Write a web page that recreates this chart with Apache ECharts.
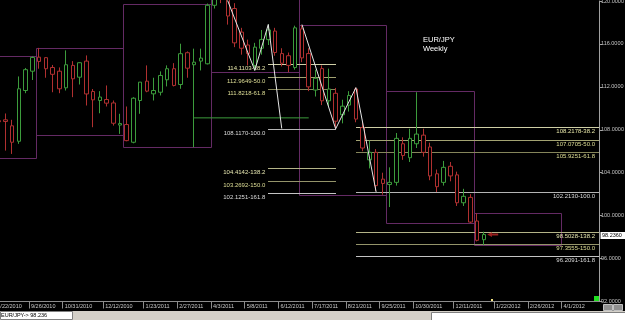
<!DOCTYPE html>
<html><head><meta charset="utf-8">
<script src="https://cdn.jsdelivr.net/npm/echarts@6/dist/echarts.min.js"></script>
<style>html,body{margin:0;padding:0;background:#000;overflow:hidden}#c{width:625px;height:320px}</style>
</head><body><div id="c"></div>
<script>
// ---- data ----
const symbolName = 'EUR/JPY';
const periodName = 'Weekly';
const firstWeek = '2010-08-22';
const opens  = [108.85,108.93,108.37,106.93,111.66,113.46,114.77,114.72,113.80,113.46,111.91,114.00,112.90,114.40,111.57,110.73,110.82,110.50,108.44,108.49,106.84,110.73,112.53,111.35,111.50,112.66,113.69,112.22,115.18,114.06,114.40,114.15,
  119.60,121.90,120.20,119.30,117.10,115.90,114.00,115.60,116.40,117.20,115.10,114.90,113.80,117.40,115.10,111.70,113.70,110.70,111.40,109.40,110.30,111.80,108.20,105.20,105.90,103.40,102.90,103.10,
  106.70,105.40,106.70,107.50,106.40,103.90,103.10,104.60,103.80,101.20,101.70,99.50,97.76];
const closes = [108.75,108.77,106.84,111.82,113.60,114.74,114.37,113.69,113.17,111.82,114.06,112.75,114.25,111.34,110.79,111.05,110.48,108.61,108.58,106.99,110.94,112.44,111.60,111.66,113.06,113.69,112.13,115.09,113.74,114.30,114.68,119.60,
  121.90,120.20,118.60,116.10,115.60,115.10,115.70,116.40,117.30,115.20,114.20,114.00,117.50,114.70,112.00,112.80,110.70,111.80,108.80,110.20,111.20,109.00,106.30,105.90,102.80,103.00,103.10,107.20,
  105.60,107.20,107.60,105.90,103.70,102.70,104.50,103.70,101.20,101.80,99.40,97.70,98.236];
const lows   = [108.30,106.06,105.75,106.69,111.41,112.64,113.69,112.85,111.50,111.41,111.66,111.04,112.22,110.26,108.24,109.54,110.17,108.39,107.62,106.93,106.74,109.49,111.50,110.73,111.20,112.04,112.04,111.82,112.85,106.37,113.53,114.09,
  119.30,119.80,117.80,115.70,115.00,114.00,113.53,115.00,115.90,114.90,113.90,113.37,113.60,114.30,111.60,111.10,110.30,110.20,108.09,108.60,109.70,108.70,106.00,104.40,102.30,101.95,100.80,102.80,
  105.20,105.00,106.30,105.50,103.30,102.20,102.80,103.20,100.90,100.90,99.31,97.60,97.26];
const highs  = [109.40,109.52,108.93,112.97,113.76,114.84,115.63,114.77,114.04,113.81,115.40,114.40,114.30,114.93,111.80,111.60,112.13,110.73,109.49,110.17,111.04,112.44,114.00,112.85,113.44,114.00,114.21,116.02,115.30,115.56,115.56,119.76,
  123.30,122.50,121.00,119.80,117.50,116.40,116.10,117.30,117.81,117.50,115.60,115.20,117.70,117.73,115.60,113.60,114.00,113.70,111.90,110.80,111.60,111.93,108.70,107.00,106.20,104.00,104.50,107.70,
  107.30,108.10,111.50,108.10,106.80,104.30,105.10,105.00,104.10,102.50,102.00,100.21,98.50];

const xTickLabels = ['8/22/2010','9/26/2010','10/31/2010','12/12/2010','1/23/2011','2/27/2011','4/3/2011','5/8/2011','6/12/2011','7/17/2011','8/21/2011','9/25/2011','10/30/2011','12/11/2011','1/22/2012','2/26/2012','4/1/2012'];
const yTickValues = [92,96,100,104,108,112,116,120];

// quarterly high/low boxes
const quarterStarts = ['2010-07-04','2010-10-03','2011-01-02','2011-04-03','2011-07-03','2011-10-02','2012-01-01'];
const quarterEnds   = ['2010-10-03','2011-01-02','2011-04-03','2011-07-03','2011-10-02','2012-01-01','2012-04-01'];
const quarterHighs  = [114.84,115.65,119.76,123.30,117.73,111.57,100.21];
const quarterLows   = [105.40,107.53,106.40,113.37,101.95,99.31,97.26];

// ABCD patterns (white zigzags)
const abcd1Dates  = ['2011-04-03','2011-05-15','2011-05-29','2011-06-12'];
const abcd1Values = [123.23,113.53,117.8126,108.1170];
const abcd2Dates  = ['2011-07-03','2011-08-07','2011-08-28','2011-09-18'];
const abcd2Values = [117.805,108.09,111.928,102.2130];

// Fibonacci levels
const fibLevels  = [38.2,50.0,61.8,100.0,138.2,150.0,161.8];
const fib1Prices = [114.1103,112.9649,111.8218,108.1170,104.4142,103.2692,102.1251];
const fib1EndDate = '2011-08-07';
const fib2Prices = [108.2178,107.0705,105.9251,102.2130,98.5028,97.3555,96.2091];

// green support line
const greenLineDates = ['2011-03-13','2011-07-10'];
const greenLineValue = 109.11;

// ---- helpers ----
const baseMs = Date.UTC(2010,8,26);
const WEEK = 7*864e5;
function wIso(s){const p=s.split('-').map(Number);return Math.round((Date.UTC(p[0],p[1]-1,p[2])-baseMs)/WEEK);}
function wUs(s){const p=s.split('/').map(Number);return Math.round((Date.UTC(p[2],p[0]-1,p[1])-baseMs)/WEEK);}
const first = wIso(firstWeek);
const candleData = opens.map((o,k)=>[first+k+0.5,o,closes[k],lows[k],highs[k]]);
const lastX = first+opens.length-1+0.5;
const lastClose = closes[closes.length-1];
const tickPos = xTickLabels.map(wUs);
const labelMap = {}; xTickLabels.forEach((l,k)=>{labelMap[tickPos[k]]=l;});

const PX = 6.74, T0 = 29.0, PLOT_R = 599;
const xMin = -12, xMax = (PLOT_R-T0)/PX;
const gridLeft = T0 + xMin*PX;

const boxes = quarterStarts.map((s,k)=>[wIso(s),wIso(quarterEnds[k]),quarterHighs[k],quarterLows[k]]);
const fibColors = {'38.2':'#cfcfa6','50':'#a3a372','61.8':'#85855a','100':'#b4b4b4','138.2':'#b4b488','150':'#94946a','161.8':'#c4c4c4'};
const fibText = {'38.2':'#e6e6a8','50':'#dede96','61.8':'#dede96','100':'#dcdcdc','138.2':'#e6e6b0','150':'#dede96','161.8':'#dcdcdc'};
const fib1Start = wIso(abcd1Dates[2])+0.5, fib1End = wIso(fib1EndDate)+0.5;
const fib2Start = wIso(abcd2Dates[2])+0.5;
const fibData = [];
fibLevels.forEach((lv,k)=>{
  fibData.push([fib1Start,fib1End,fib1Prices[k],lv,0]);
  fibData.push([fib2Start,xMax,fib2Prices[k],lv,1]);
});

const GREEN='#3c9c3c', RED='#b03030', PURPLE='#642a64';
const FONT='Liberation Sans';

const chart = echarts.init(document.getElementById('c'),null,{renderer:'canvas'});
chart.setOption({
  backgroundColor:'#000',
  animation:false,
  title:{text:symbolName+'\n'+periodName,left:423,top:35,padding:0,
    textStyle:{color:'#ffffff',fontSize:7.5,fontWeight:'normal',lineHeight:9,fontFamily:FONT}},
  grid:{left:gridLeft,right:625-PLOT_R,top:1,bottom:18.5,containLabel:false,outerBoundsMode:'none'},
  xAxis:{type:'value',min:xMin,max:xMax,splitLine:{show:false},
    axisLine:{show:true,onZero:false,lineStyle:{color:'#8c8c8c',width:1}},
    axisTick:{show:true,customValues:tickPos,length:7,lineStyle:{color:'#8c8c8c'}},
    axisLabel:{customValues:tickPos,formatter:v=>labelMap[Math.round(v)]||'',color:'#c8c8c8',fontSize:5.5,
      fontFamily:FONT,align:'left',margin:2,padding:[0,0,0,2],hideOverlap:false}},
  yAxis:{type:'value',position:'right',min:92,max:120,splitLine:{show:false},
    axisLine:{show:true,onZero:false,lineStyle:{color:'#a0a0a0',width:1}},
    axisTick:{show:true,customValues:yTickValues,length:3,lineStyle:{color:'#a0a0a0'}},
    axisLabel:{customValues:yTickValues,formatter:v=>Number(v).toFixed(4),color:'#c4c4c4',fontSize:5.5,fontFamily:FONT,margin:2}},
  series:[
    {type:'custom',z:1,silent:true,data:boxes,encode:{x:[0,1],y:[2,3]},
      renderItem:(p,api)=>{const a=api.coord([api.value(0),api.value(2)]);const b=api.coord([api.value(1),api.value(3)]);
        const x1=Math.round(a[0])+0.5,y1=Math.round(a[1])+0.5,x2=Math.round(b[0])+0.5,y2=Math.round(b[1])+0.5;
        return {type:'rect',shape:{x:x1,y:y1,width:x2-x1,height:y2-y1},style:{fill:null,stroke:PURPLE,lineWidth:1}};}},
    {type:'custom',z:2,silent:true,data:fibData,encode:{x:[0,1],y:2},
      renderItem:(p,api)=>{const x1v=api.value(0),x2v=api.value(1),pr=api.value(2),lv=api.value(3),side=api.value(4);
        const a=api.coord([x1v,pr]),b=api.coord([x2v,pr]);const y=Math.round(a[1])+0.5;const key=String(lv);
        const txt=pr.toFixed(4)+'-'+lv.toFixed(1);
        const tx= side===0 ? a[0]-3 : b[0]-4;
        return {type:'group',children:[
          {type:'line',shape:{x1:Math.round(a[0]),y1:y,x2:Math.round(b[0]),y2:y},style:{stroke:fibColors[key],lineWidth:1}},
          {type:'text',x:tx,y:y+0.5,style:{text:txt,fill:fibText[key],font:'6px '+FONT,align:'right',verticalAlign:'top'}}]};}},
    {type:'line',z:2,silent:true,symbol:'none',data:greenLineDates.map(d=>[wIso(d)+0.5,greenLineValue]),lineStyle:{color:GREEN,width:1}},
    {type:'candlestick',z:3,silent:true,data:candleData,encode:{x:0,y:[1,2,3,4]},barWidth:4,
      itemStyle:{color:'#000',color0:'#000',borderColor:GREEN,borderColor0:RED,borderColorDoji:GREEN,borderWidth:1}},
    {type:'line',z:4,silent:true,symbol:'none',data:abcd1Dates.map((d,k)=>[wIso(d)+0.5,abcd1Values[k]]),lineStyle:{color:'#e6e6e6',width:1}},
    {type:'line',z:4,silent:true,symbol:'none',data:abcd2Dates.map((d,k)=>[wIso(d)+0.5,abcd2Values[k]]),lineStyle:{color:'#e6e6e6',width:1}},
    {type:'scatter',z:5,silent:true,data:[[lastX+1.3,lastClose]],symbol:'path://M0,5 L6,0 L6,3 L14,3 L14,7 L6,7 L6,10 Z',symbolSize:[11,5],itemStyle:{color:'#c02828'}},
    {type:'custom',z:6,silent:true,clip:false,data:[[xMax,lastClose]],encode:{x:0,y:1},
      renderItem:(p,api)=>{const c=api.coord([api.value(0),api.value(1)]);const y=Math.round(c[1]);
        return {type:'group',children:[
          {type:'rect',shape:{x:c[0]+1.5,y:y-3,width:30,height:7},style:{fill:'#ffffff'}},
          {type:'text',x:c[0]+3,y:y+0.5,style:{text:api.value(1).toFixed(4),fill:'#000',font:'5.5px '+FONT,verticalAlign:'middle'}}]};}}
  ],
  graphic:[
    {type:'rect',shape:{x:0,y:311,width:625,height:9},style:{fill:'#d4d0c8'},silent:true},
    {type:'rect',shape:{x:0.5,y:311.5,width:72,height:8},style:{fill:'#ffffff',stroke:'#808080'},silent:true},
    {type:'rect',shape:{x:431.5,y:312.5,width:194,height:8},style:{fill:'#ffffff',stroke:'#808080'},silent:true},
    {type:'text',x:1,y:312.5,style:{text:symbolName+'-> '+lastClose.toFixed(3),fill:'#000',font:'5.5px '+FONT},silent:true},
    {type:'rect',shape:{x:594,y:296,width:5,height:5},style:{fill:'#20e020'},silent:true},
    {type:'rect',shape:{x:491,y:299,width:2,height:3},style:{fill:'#f0e080'},silent:true},
    {type:'rect',shape:{x:603.5,y:304.5,width:9,height:6},style:{fill:'#909090',stroke:'#c0c0c0'},silent:true},
    {type:'rect',shape:{x:613.5,y:304.5,width:9,height:6},style:{fill:'#909090',stroke:'#c0c0c0'},silent:true}
  ]
});
</script></body></html>
